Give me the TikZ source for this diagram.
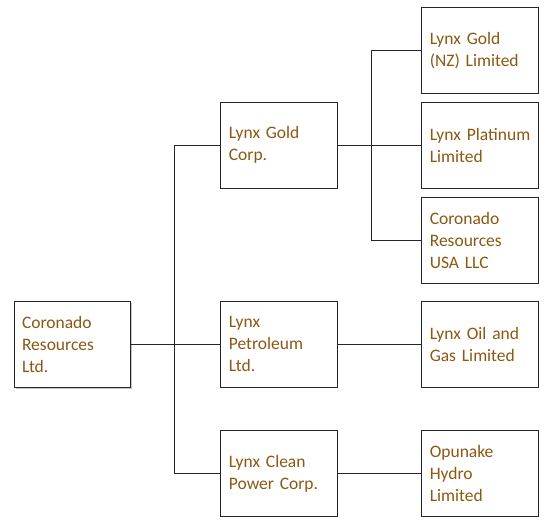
\documentclass[tikz,border=0pt]{standalone}
\usepackage{fontspec}
\setmainfont{Carlito}
\usepackage{xcolor}
\usepackage{tikz}
\usetikzlibrary{positioning, shadows}
\definecolor{txtbrown}{RGB}{140,88,18}

\begin{document}
\begin{tikzpicture}[x=1pt, y=1pt,
        block/.style={rectangle, draw=black!85, line width=0.9pt, fill=white, text width=101pt, inner xsep=8pt, align=left, minimum height=86pt, text=txtbrown, font=\fontsize{17.5}{22}\selectfont},
        rootblock/.style={block, minimum width=116pt, text width=100pt, drop shadow={shadow xshift=1.5pt, shadow yshift=-1.5pt, fill=black!45}},
        link/.style={draw=black!85, line width=0.9pt}]
        \useasboundingbox (0,0) rectangle (550,-530);

        \node (n1) [rootblock] at (72,-344) {Coronado\\Resources\\Ltd.};
        \node (n3) [block, right=90pt of n1] {Lynx\\Petroleum\\Ltd.};
        \node (n2) [block, above=112pt of n3] {Lynx Gold\\Corp.};
        \node (n4) [block, below=43pt of n3] {Lynx Clean\\Power Corp.};
        \node (n6) [block, right=83pt of n2] {Lynx Platinum\\Limited};
        \node (n5) [block, above=8pt of n6] {Lynx Gold\\(NZ) Limited};
        \node (n7) [block, below=8pt of n6] {Coronado\\Resources\\USA LLC};
        \node (n8) [block, right=83pt of n3] {Lynx Oil and\\Gas Limited};
        \node (n9) [block, right=83pt of n4] {Opunake\\Hydro\\Limited};

        \draw[link] (n1) -- (n3);
        \draw[link] (n2.west) -- ++(-46pt,0) |- (n4.west);
        \draw[link] (n2) -- (n6);
        \draw[link] (n5.west) -- ++(-50pt,0) |- (n7.west);
        \draw[link] (n3) -- (n8);
        \draw[link] (n4) -- (n9);
    \end{tikzpicture}
\end{document}
